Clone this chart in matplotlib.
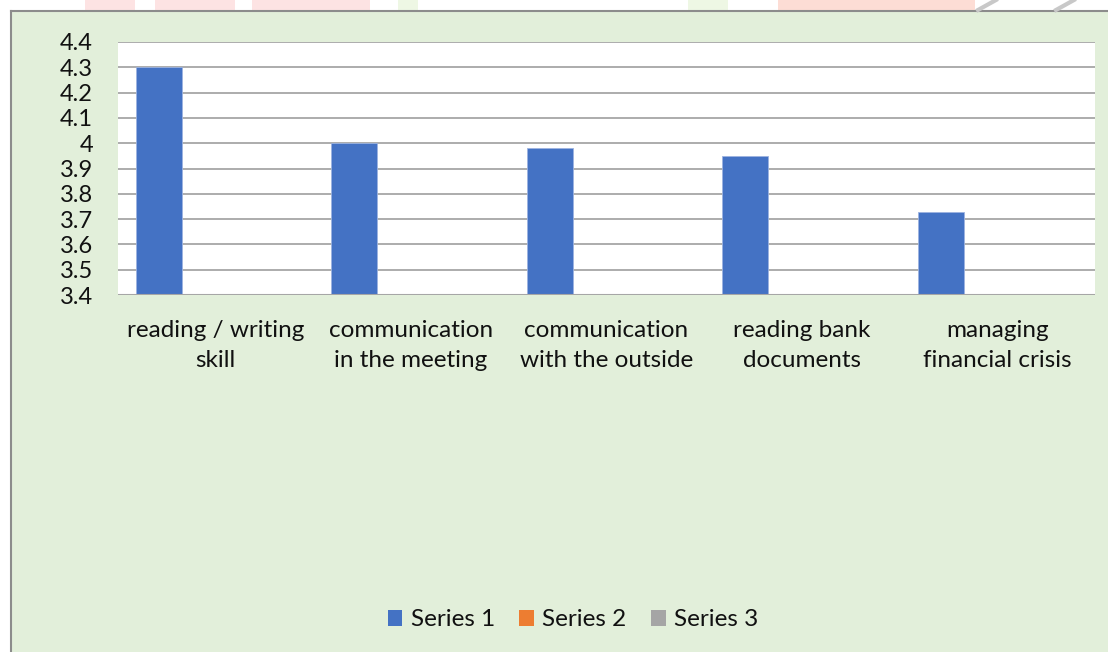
import numpy as np
import matplotlib
matplotlib.use("Agg")
import matplotlib.pyplot as plt
from matplotlib.patches import Rectangle, Patch
from matplotlib.lines import Line2D

plt.rcParams['font.family'] = ['Lato', 'DejaVu Sans']

categories = ['reading / writing\nskill', 'communication\nin the meeting',
              'communication\nwith the outside', 'reading bank\ndocuments',
              'managing\nfinancial crisis']
series1 = [4.3, 4.0, 3.98, 3.95, 3.73]
series2 = [0, 0, 0, 0, 0]
series3 = [0, 0, 0, 0, 0]
series_names = ['Series 1', 'Series 2', 'Series 3']
colors = ['#4472C4', '#ED7D31', '#A5A5A5']
yticks = [3.4, 3.5, 3.6, 3.7, 3.8, 3.9, 4.0, 4.1, 4.2, 4.3, 4.4]
ytick_labels = ['3.4', '3.5', '3.6', '3.7', '3.8', '3.9', '4', '4.1', '4.2', '4.3', '4.4']

W, H = 1108, 652
fig = plt.figure(figsize=(W / 100, H / 100), dpi=100)
fig.patch.set_facecolor('white')

# chart area background (cropped on right and bottom), border on top and left
fig.patches.append(Rectangle((11 / W, 0), 1, 1 - 11 / H, transform=fig.transFigure,
                             facecolor='#E2EFDA', edgecolor='none', zorder=0))
fig.lines.append(Line2D([11 / W, 1], [1 - 11 / H, 1 - 11 / H], transform=fig.transFigure,
                        color='#8C8C8C', linewidth=1.5))
fig.lines.append(Line2D([11 / W, 11 / W], [0, 1 - 11 / H], transform=fig.transFigure,
                        color='#8C8C8C', linewidth=1.5))

# faint watermark fragments above the chart
frags = [(85, 135, '#FDE3E3'), (155, 235, '#FDE3E3'), (252, 370, '#FDE3E3'),
         (398, 418, '#EEF7E4'), (688, 728, '#EEF7E4'), (778, 975, '#FDDDD5')]
for x0, x1, c in frags:
    fig.patches.append(Rectangle((x0 / W, 1 - 10 / H), (x1 - x0) / W, 10 / H,
                                 transform=fig.transFigure, facecolor=c,
                                 edgecolor='none', zorder=0))
for x0 in [978, 1056]:
    fig.lines.append(Line2D([x0 / W, (x0 + 18) / W], [1 - 10 / H, 1], transform=fig.transFigure,
                            color='#C8C8C8', linewidth=3))

ax = fig.add_axes([118 / W, 1 - 295 / H, (1095 - 118) / W, (295 - 42) / H])
ax.set_facecolor('white')
ax.set_zorder(1)

x = np.arange(len(categories))
width = 0.235
offsets = [-0.29, -0.05, 0.19]
for vals, off, c, name in zip([series1, series2, series3], offsets, colors, series_names):
    ax.bar(x + off, vals, width, color=c, edgecolor='#9DB3E0', linewidth=0.6,
           label=name, zorder=3)

ax.set_xlim(-0.5, len(categories) - 0.5)
ax.set_ylim(3.4, 4.4)
ax.set_yticks(yticks)
ax.set_yticklabels(ytick_labels)
ax.yaxis.grid(True, color='#A6A6A6', linewidth=1.3, zorder=0)
ax.set_axisbelow(True)
for s in ['left', 'right', 'bottom', 'top']:
    ax.spines[s].set_visible(False)
ax.axhline(3.4, color='#A6A6A6', linewidth=1.5, zorder=4)
ax.tick_params(axis='y', length=0, pad=18, labelsize=17, labelcolor='#111111')
ax.tick_params(axis='x', length=0, pad=18, labelsize=17.5, labelcolor='#111111')
ax.set_xticks(x)
ax.set_xticklabels(categories, linespacing=1.55)

handles = [Patch(facecolor=c, edgecolor='none') for c in colors]
fig.legend(handles, series_names, loc='center', bbox_to_anchor=(573 / W, 1 - 620 / H),
           ncol=3, frameon=False, fontsize=17.5, handlelength=0.6, handleheight=0.6,
           handletextpad=0.35, columnspacing=1.0, labelcolor='#111111')

fig.savefig('out.png', dpi=100)
